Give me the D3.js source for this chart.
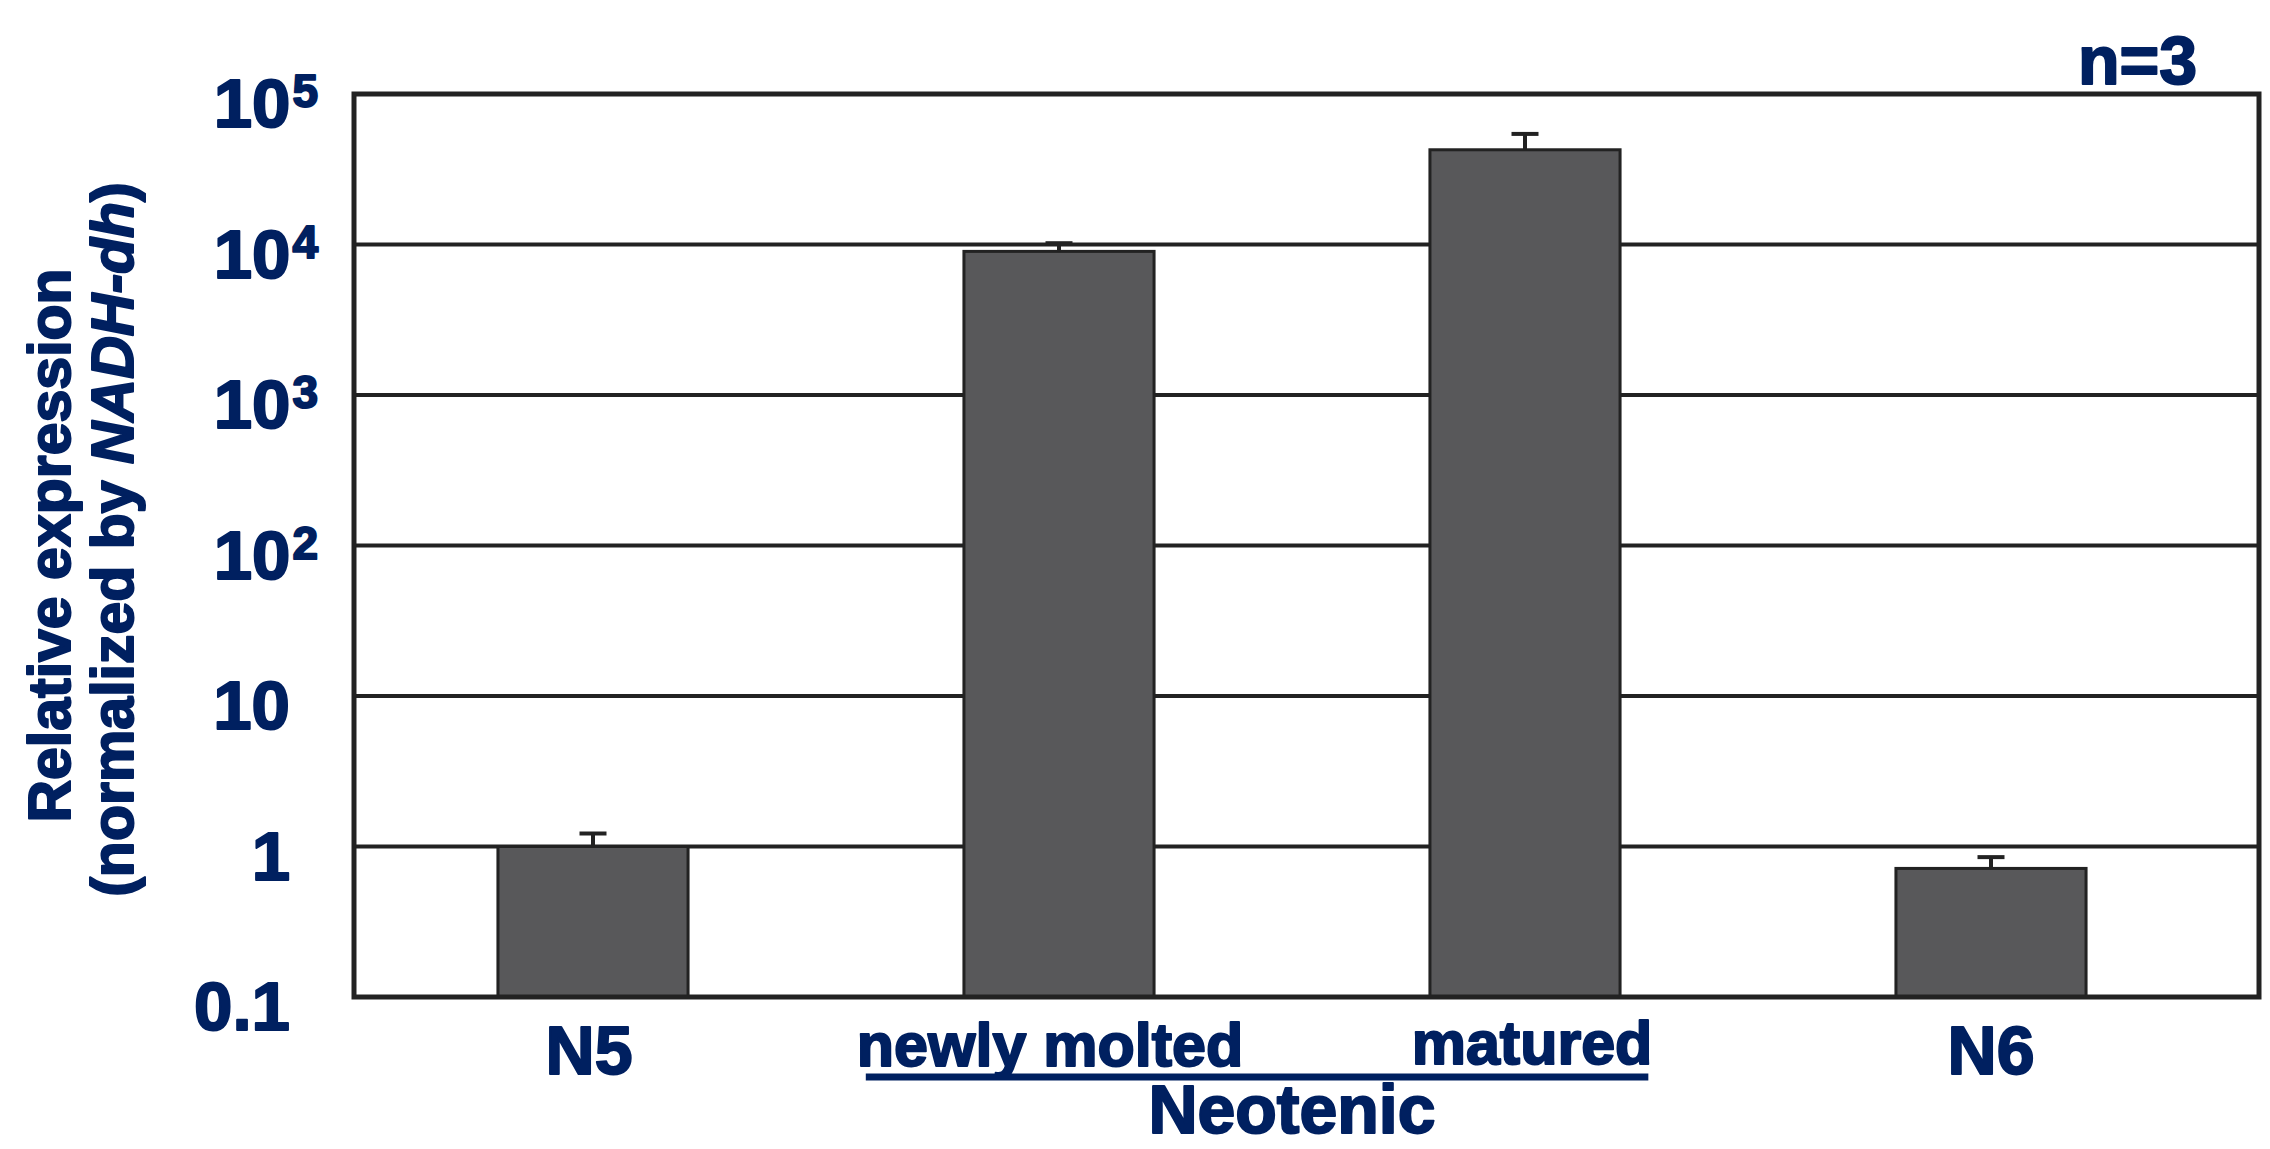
<!DOCTYPE html>
<html>
<head>
<meta charset="utf-8">
<script src="https://cdn.jsdelivr.net/npm/d3@7"></script>
<style>
  html, body { margin: 0; padding: 0; background: #ffffff; }
  svg { display: block; }
  text { font-family: "Liberation Sans", Arial, Helvetica, sans-serif; font-weight: bold; fill: #002060; stroke: #002060; stroke-width: 2px; stroke-linejoin: round; }
</style>
</head>
<body>
<svg id="chart" width="2270" height="1149"></svg>
<script>
// ---- data ----
const categories = ["N5", "newly molted", "matured", "N6"];
const values = [1.0, 9000, 42600, 0.715];
const errorTops = [1.22, 10200, 54300, 0.85];
const yTicks = [0.1, 1, 10, 100, 1000, 10000, 100000];
const yTickBase = ["0.1", "1", "10", "10", "10", "10", "10"];
const yTickExp = ["", "", "", "2", "3", "4", "5"];
const yTitleLine1 = "Relative expression";
const yTitleLine2a = "(normalized by ";
const yTitleLine2b = "NADH-dh";
const yTitleLine2c = ")";
const groupLabel = "Neotenic";
const sampleLabel = "n=3";

// ---- layout ----
const W = 2270, H = 1149;
const plot = { left: 354, right: 2259, top: 94, bottom: 997 };
const ink = "#222222";
const barFill = "#58585a";
const textColor = "#002060";

const svg = d3.select("#chart");

const y = d3.scaleLog().domain([0.1, 100000]).range([plot.bottom, plot.top]);
const x = d3.scaleBand().domain(categories)
  .range([plot.left + 6, plot.right - 35])
  .paddingInner(0.592).paddingOuter(0.296);

// gridlines
svg.append("g").selectAll("line")
  .data(yTicks.filter(v => v > 0.1 && v < 100000))
  .join("line")
  .attr("x1", plot.left).attr("x2", plot.right)
  .attr("y1", d => y(d)).attr("y2", d => y(d))
  .attr("stroke", ink).attr("stroke-width", 4);

// bars
svg.append("g").selectAll("rect")
  .data(categories)
  .join("rect")
  .attr("x", d => x(d))
  .attr("width", x.bandwidth())
  .attr("y", (d, i) => y(values[i]))
  .attr("height", (d, i) => y(0.1) - y(values[i]))
  .attr("fill", barFill)
  .attr("stroke", ink).attr("stroke-width", 3);

// error bars
const capW = 27;
const eg = svg.append("g").attr("stroke", ink).attr("stroke-width", 4);
eg.selectAll("line.stem").data(categories).join("line").attr("class", "stem")
  .attr("x1", d => x(d) + x.bandwidth() / 2).attr("x2", d => x(d) + x.bandwidth() / 2)
  .attr("y1", (d, i) => y(values[i])).attr("y2", (d, i) => y(errorTops[i]));
eg.selectAll("line.cap").data(categories).join("line").attr("class", "cap")
  .attr("x1", d => x(d) + x.bandwidth() / 2 - capW / 2).attr("x2", d => x(d) + x.bandwidth() / 2 + capW / 2)
  .attr("y1", (d, i) => y(errorTops[i])).attr("y2", (d, i) => y(errorTops[i]));

// frame
svg.append("rect")
  .attr("x", plot.left).attr("y", plot.top)
  .attr("width", plot.right - plot.left).attr("height", plot.bottom - plot.top)
  .attr("fill", "none").attr("stroke", ink).attr("stroke-width", 5);

// y tick labels
const yl = svg.append("g");
yTicks.forEach((v, i) => {
  const hasExp = yTickExp[i] !== "";
  const t = yl.append("text")
    .attr("x", hasExp ? 318 : 290)
    .attr("y", y(v) + 33)
    .attr("text-anchor", "end")
    .attr("font-size", 69)
    .text(yTickBase[i]);
  if (hasExp) {
    t.append("tspan").attr("font-size", 46).attr("dy", -20).attr("dx", 2).text(yTickExp[i]);
  }
});

// y axis title
const cy = (plot.top + plot.bottom) / 2;
svg.append("text")
  .attr("transform", `translate(70,${cy}) rotate(-90)`)
  .attr("text-anchor", "middle").attr("font-size", 59)
  .text(yTitleLine1);
const t2 = svg.append("text")
  .attr("transform", `translate(133,${cy - 6}) rotate(-90)`)
  .attr("text-anchor", "middle").attr("font-size", 59);
t2.append("tspan").text(yTitleLine2a);
t2.append("tspan").attr("font-style", "italic").text(yTitleLine2b);
t2.append("tspan").text(yTitleLine2c);

// x category labels
const labelSize = [68, 61, 61, 68];
const labelBase = [1074, 1066, 1064, 1074];
const labelShift = [-4, -9, 7, 0];
const xl = svg.append("g");
const labelNodes = categories.map((c, i) =>
  xl.append("text")
    .attr("x", x(c) + x.bandwidth() / 2 + labelShift[i])
    .attr("y", labelBase[i])
    .attr("text-anchor", "middle")
    .attr("font-size", labelSize[i])
    .text(c)
);

// group underline
const b1 = labelNodes[1].node().getBBox();
const b2 = labelNodes[2].node().getBBox();
svg.append("line")
  .attr("x1", b1.x + 9).attr("x2", b2.x + b2.width - 4)
  .attr("y1", 1077).attr("y2", 1077)
  .attr("stroke", textColor).attr("stroke-width", 7);

const midGroup = (x(categories[1]) + x(categories[2]) + x.bandwidth()) / 2;
svg.append("text")
  .attr("x", midGroup).attr("y", 1133)
  .attr("text-anchor", "middle").attr("font-size", 68)
  .text(groupLabel);

// n=3
svg.append("text")
  .attr("x", 2197).attr("y", 84)
  .attr("text-anchor", "end").attr("font-size", 68)
  .text(sampleLabel);
</script>
</body>
</html>
